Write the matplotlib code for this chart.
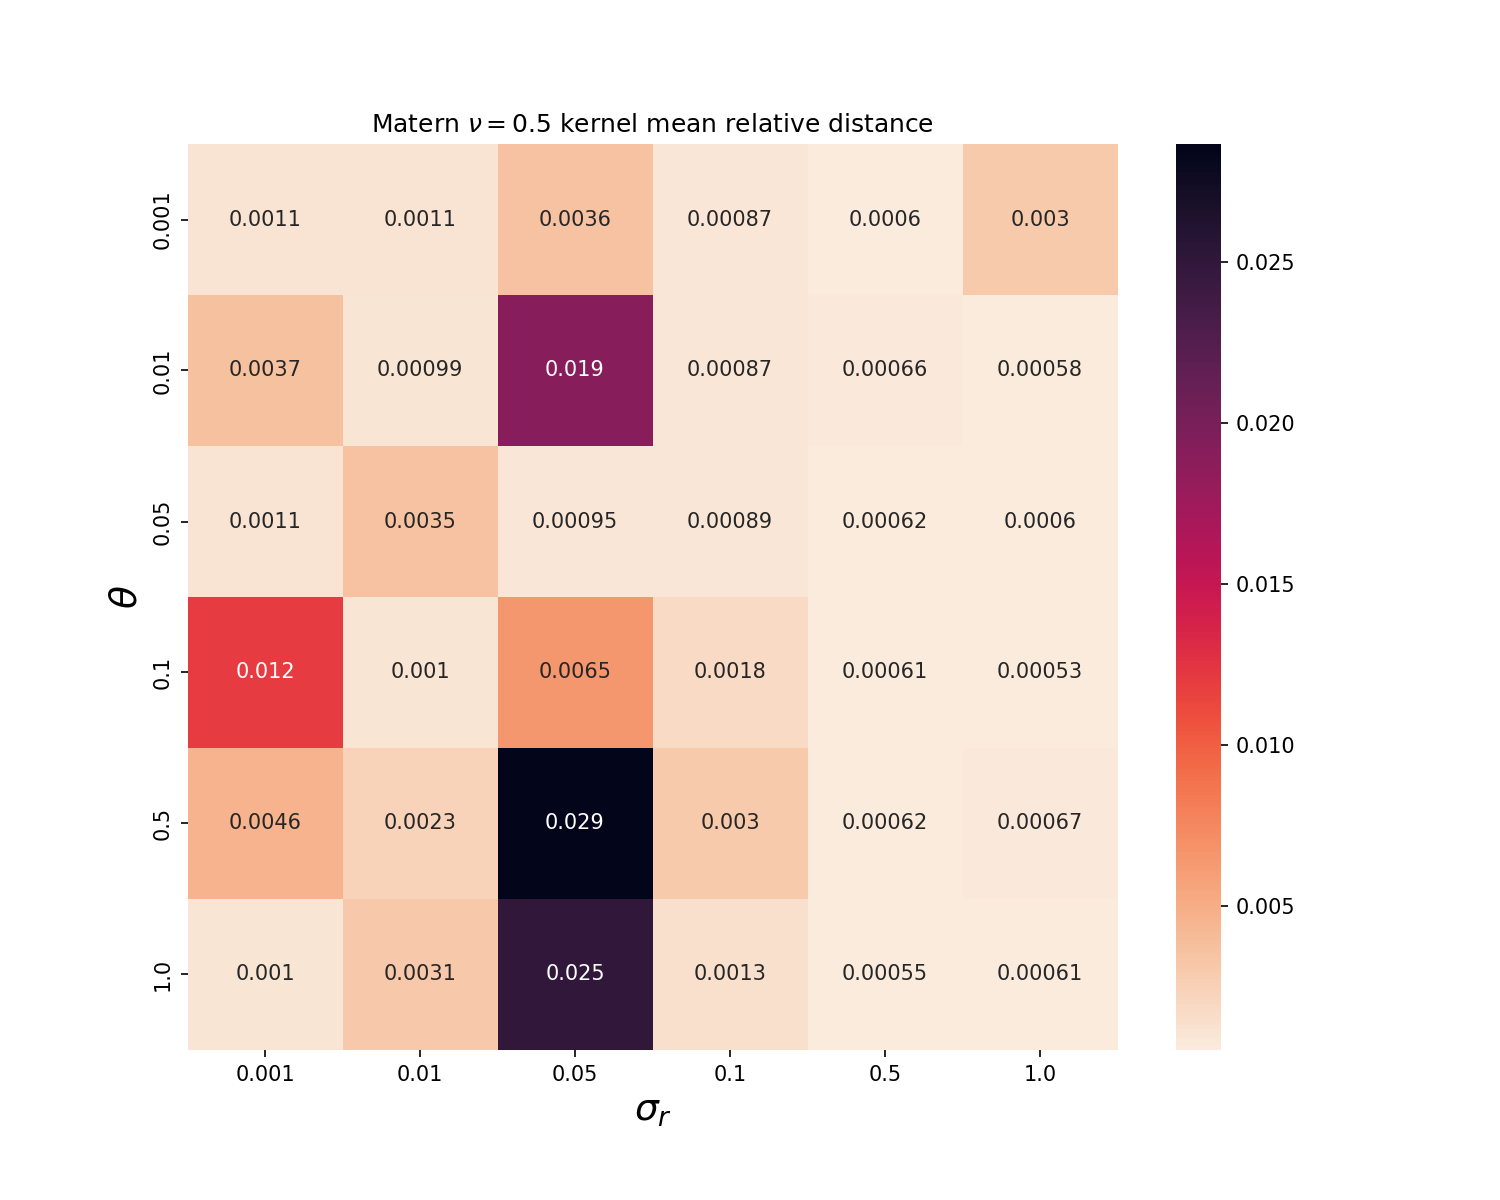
import numpy as np
import matplotlib
matplotlib.use('Agg')
import matplotlib.pyplot as plt
import seaborn as sns

thetas = ['0.001', '0.01', '0.05', '0.1', '0.5', '1.0']
sigmas = ['0.001', '0.01', '0.05', '0.1', '0.5', '1.0']

row_0001 = [0.0011, 0.0011, 0.0036, 0.00087, 0.0006, 0.003]
row_001 = [0.0037, 0.00099, 0.019, 0.00087, 0.00066, 0.00058]
row_005 = [0.0011, 0.0035, 0.00095, 0.00089, 0.00062, 0.0006]
row_01 = [0.012, 0.001, 0.0065, 0.0018, 0.00061, 0.00053]
row_05 = [0.0046, 0.0023, 0.02866, 0.003, 0.00062, 0.00067]
row_1 = [0.001, 0.0031, 0.025, 0.0013, 0.00055, 0.00061]

dist = np.array([row_0001, row_001, row_005, row_01, row_05, row_1])

fig, ax = plt.subplots(figsize=(10, 8), dpi=150)
fig.subplots_adjust(bottom=0.125)
sns.heatmap(dist, annot=True, fmt='.2g', cmap='rocket_r',
            xticklabels=sigmas, yticklabels=thetas, ax=ax)
ax.set_xlabel(r'$\sigma_r$', fontsize=18)
ax.set_ylabel(r'$\theta$', fontsize=18)
ax.set_title(r'Matern $\nu=0.5$ kernel mean relative distance')

fig.savefig('out.png')
